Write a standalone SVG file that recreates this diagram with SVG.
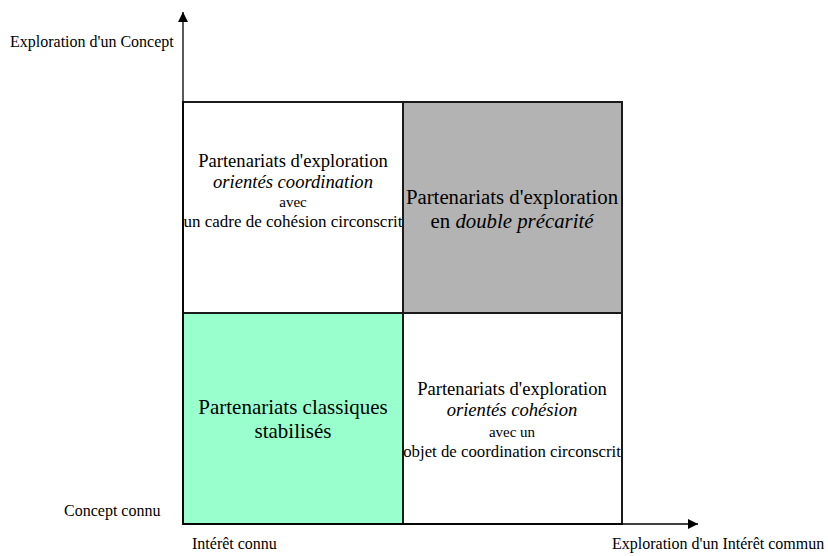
<svg xmlns="http://www.w3.org/2000/svg" width="828" height="556" viewBox="0 0 828 556">
<style>
text{font-family:"Liberation Serif","Times New Roman",serif;fill:#000}
.ax{font-size:16px}
.b{stroke:#1a1a1a;stroke-width:2}
.c{text-anchor:middle}
.i{font-style:italic}
.axis{stroke:#000;stroke-width:1.3;fill:none}
</style>
<defs>
<marker id="ah" viewBox="0 0 10 10" refX="10" refY="5" markerWidth="10" markerHeight="10" markerUnits="userSpaceOnUse" orient="auto">
<path d="M0,0 L10,5 L0,10 z" fill="#000"/>
</marker>
</defs>
<rect width="828" height="556" fill="#fff"/>
<g id="q-top-left">
<rect class="b" x="183" y="102" width="220" height="211" fill="#fff"/>
<text class="c" x="293" y="167" font-size="18.6">Partenariats d'exploration</text>
<text class="c i" x="293" y="188" font-size="18.6">orientés coordination</text>
<text class="c" x="293" y="207" font-size="15">avec</text>
<text class="c" x="293" y="227" font-size="17">un cadre de cohésion circonscrit</text>
</g>
<g id="q-top-right">
<rect class="b" x="403" y="102" width="219" height="211" fill="#b3b3b3"/>
<text class="c" x="512" y="204" font-size="20.8">Partenariats d'exploration</text>
<text class="c" x="512" y="228" font-size="20.8">en <tspan class="i">double précarité</tspan></text>
</g>
<g id="q-bottom-left">
<rect class="b" x="183" y="313" width="220" height="211" fill="#99ffcc"/>
<text class="c" x="293" y="414" font-size="21">Partenariats classiques</text>
<text class="c" x="293" y="438" font-size="21">stabilisés</text>
</g>
<g id="q-bottom-right">
<rect class="b" x="403" y="313" width="219" height="211" fill="#fff"/>
<text class="c" x="512" y="395" font-size="18.6">Partenariats d'exploration</text>
<text class="c i" x="512" y="416" font-size="18.6">orientés cohésion</text>
<text class="c" x="512" y="437" font-size="15">avec un</text>
<text class="c" x="512" y="457" font-size="16.8">objet de coordination circonscrit</text>
</g>
<g id="connectors">
<line class="axis" x1="183" y1="524" x2="183" y2="12" marker-end="url(#ah)"/>
<line class="axis" x1="183" y1="524" x2="698" y2="524" marker-end="url(#ah)"/>
</g>
<g id="axis-labels">
<text class="ax" x="10" y="47">Exploration d'un Concept</text>
<text class="ax" x="64" y="516">Concept connu</text>
<text class="ax" x="192" y="549">Intérêt connu</text>
<text class="ax" x="612" y="549">Exploration d'un Intérêt commun</text>
</g>
</svg>
